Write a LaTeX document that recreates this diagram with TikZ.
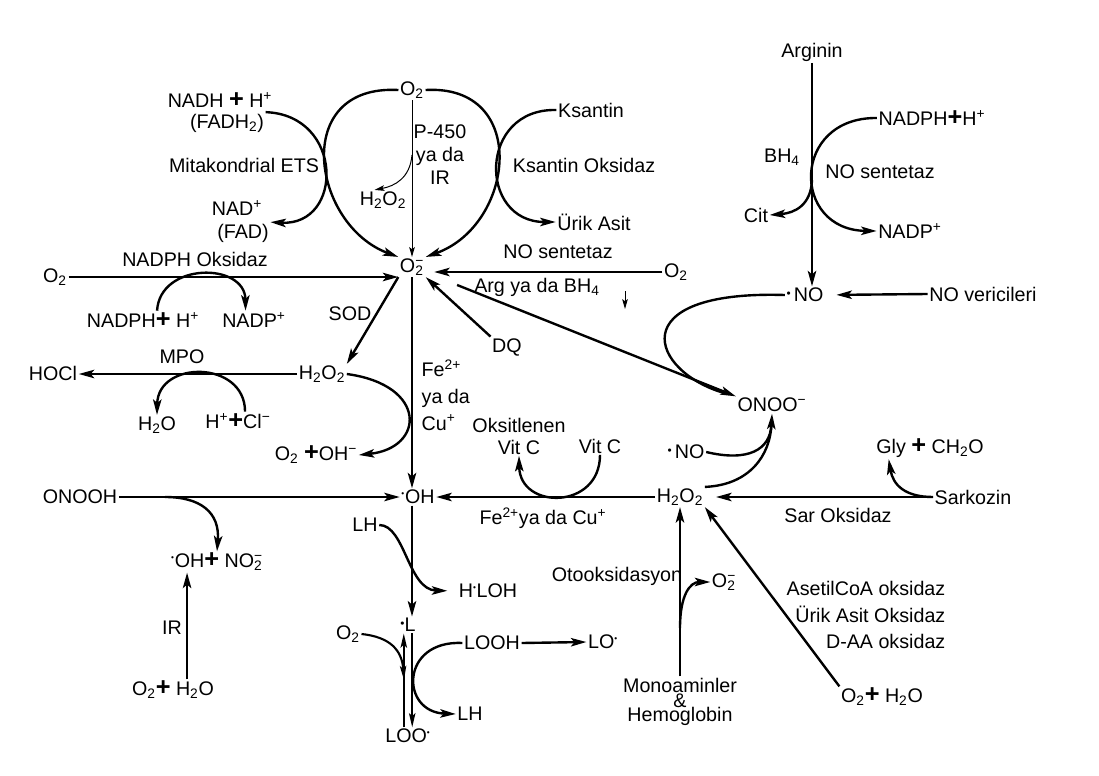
\documentclass[tikz,border=0pt]{standalone}
\usepackage{fontspec}
\setmainfont{Liberation Sans}
\usetikzlibrary{arrows.meta}
\newcommand{\chsb}[2]{\rlap{\textsubscript{#1}}\textsuperscript{#2}}
\newcommand{\rdot}{\textsuperscript{\scalebox{0.6}{•}}}
\newcommand{\mdot}{\raisebox{0.2em}{\scalebox{0.6}{•}}}
\newcommand{\bplus}{{\fontsize{18}{18}\selectfont\bfseries+}}
\begin{document}
\begin{tikzpicture}
		[x=0.025cm,y=-0.025cm,
		every node/.style={font=\fontsize{14}{16.5}\selectfont,inner sep=1pt},
		rx/.style={line width=1.7pt,-{Stealth[length=11pt,width=6pt,inset=2.5pt]}},
		ln/.style={line width=1.7pt},
		tn/.style={line width=0.7pt,-{Stealth[length=7pt,width=4pt,inset=1.5pt]}},
		nr/.style={line width=1.5pt,-{Stealth[length=10pt,width=4.5pt,inset=2pt]}},
		]
		\useasboundingbox[fill=white] (0,0) rectangle (1099,776);

		\node (o2top) at (412,90) {O\textsubscript{2}};
		\node (nadh) at (220,100) {NADH \bplus{} H\textsuperscript{+}};
		\node (fadh) at (227,123) {(FADH\textsubscript{2})};
		\node (ets) at (244,165) {Mitakondrial ETS};
		\node (nad) at (237,208) {NAD\textsuperscript{+}};
		\node (fad) at (243,233) {(FAD)};
		\node[align=center,font=\fontsize{14}{16.3}\selectfont] (p450) at (440,155) {P-450\\ya da\\IR};
		\node (h2o2a) at (383,200) {H\textsubscript{2}O\textsubscript{2}};
		\node (ksantin) at (591,110) {Ksantin};
		\node (ko) at (584,165) {Ksantin Oksidaz};
		\node (urik) at (594,222) {Ürik Asit};
		\node (sup) at (412,267) {O\chsb{2}{−}};
		\node (o2l) at (55,277) {O\textsubscript{2}};
		\node (nadphox) at (195,259) {NADPH Oksidaz};
		\node (nadph1) at (143,320) {NADPH\bplus{} H\textsuperscript{+}};
		\node (nadp1) at (254,320) {NADP\textsuperscript{+}};
		\node (nos1) at (558,252) {NO sentetaz};
		\node (o2r) at (676,272) {O\textsubscript{2}};
		\node (argbh) at (537,287) {Arg ya da BH\textsubscript{4}};
		\coordinate (dw1) at (625,291);
		\coordinate (dw2) at (625,309);
		\node (sod) at (350,314) {SOD};
		\node (h2o2b) at (322,374) {H\textsubscript{2}O\textsubscript{2}};
		\node (hocl) at (53,373) {HOCl};
		\node (mpo) at (182,357) {MPO};
		\node (h2o) at (157,425) {H\textsubscript{2}O};
		\node (hcl) at (238,421) {H\textsuperscript{+}\bplus{}Cl\textsuperscript{−}};
		\node (o2oh) at (316,455) {O\textsubscript{2} \bplus{}OH\textsuperscript{−}};
		\node[anchor=west,align=left,font=\fontsize{14}{19}\selectfont] (fecu) at (420,395) {Fe\textsuperscript{2+}\\ya da\\Cu\textsuperscript{+}};
		\node (dq) at (507,347) {DQ};
		\node (onoo) at (772,405) {ONOO\textsuperscript{−}};
		\node (arginin) at (812,52) {Arginin};
		\node (nadph2) at (932,118) {NADPH\bplus{}H\textsuperscript{+}};
		\node (bh4) at (782,157) {BH\textsubscript{4}};
		\node (nos2) at (880,172) {NO sentetaz};
		\node (cit) at (756,215) {Cit};
		\node (nadp2) at (910,231) {NADP\textsuperscript{+}};
		\node (no1) at (805,295) {\mdot\,NO};
		\node (nover) at (983,294) {NO vericileri};
		\node[align=center,font=\fontsize{14}{15.6}\selectfont] (oksvitc) at (519,436) {Oksitlenen\\Vit C};
		\node (vitc) at (600,446) {Vit C};
		\node (no2) at (686,452) {\mdot\,NO};
		\node (oh) at (418,497) {\rdot OH};
		\node (onooh) at (80,497) {ONOOH};
		\node (h2o2c) at (680,497) {H\textsubscript{2}O\textsubscript{2}};
		\node (fecu2) at (543,518) {Fe\textsuperscript{2+}ya da Cu\textsuperscript{+}};
		\node (gly) at (930,448) {Gly \bplus{} CH\textsubscript{2}O};
		\node (sark) at (973,497) {Sarkozin};
		\node (saro) at (838,515) {Sar Oksidaz};
		\coordinate (ob) at (165,497);
		\node (ohno2) at (217,562) {\rdot OH\bplus{} NO\chsb{2}{−}};
		\node (ir) at (172,628) {IR};
		\node (o2h2o1) at (173,690) {O\textsubscript{2}\bplus{} H\textsubscript{2}O};
		\node (lh1) at (365,525) {LH};
		\node (hloh) at (488,591) {H\rdot LOH};
		\node (ldot) at (408,625) {\mdot L};
		\node (o2b) at (348,634) {O\textsubscript{2}};
		\coordinate (la) at (404,680);
		\node (looh) at (492,643) {LOOH};
		\node (lo) at (603,642) {LO\rdot};
		\node (lh2) at (470,714) {LH};
		\node (loo) at (408,736) {LOO\rdot};
		\node[align=center,font=\fontsize{14}{10.5}\selectfont] (mono) at (680,702) {Monoaminler\\\&\\Hemoglobin};
		\node (otook) at (617,576) {Otooksidasyon};
		\coordinate (mb) at (680,628);
		\node (o2s2) at (724,582) {O\chsb{2}{−}};
		\node[anchor=east,align=right,font=\fontsize{14}{19}\selectfont] (enz) at (947,615) {AsetilCoA oksidaz\\Ürik Asit Oksidaz\\D-AA oksidaz};
		\node (o2h2o2) at (882,697) {O\textsubscript{2}\bplus{} H\textsubscript{2}O};
		\coordinate (pb) at (412,155);
		\coordinate (cb) at (812,180);

		% halka ve yan tepkimeler
		\draw[rx] (o2top.west) .. controls (290,84) and (312,225) .. (sup.north west);
		\draw[rx] (o2top.east) .. controls (530,84) and (515,225) .. (sup.north east);
		\draw[rx] (fadh.north east) .. controls (344,115) and (344,226) .. (fad.north east);
		\draw[rx] (ksantin.west) .. controls (478,108) and (478,222) .. (urik.west);
		\draw[tn] (o2top.south) -- (o2top.south |- sup.north);
		\draw[tn] (pb) .. controls (410,178) and (395,186) .. ([xshift=-6pt]h2o2a.north);
		\draw[rx] (o2l.east) -- (o2l.east -| sup.west);
		\draw[rx] ([xshift=10pt]nadph1.north) .. controls (160,262) and (245,262) .. ([xshift=-6pt]nadp1.north);
		\draw[rx,shorten >=6pt] (o2r.west) -- (o2r.west -| sup.east);
		\draw[tn] (dw1) -- (dw2);
		\draw[rx] (sup.south west) -- (h2o2b.north east);
		\draw[rx] (sup.south) -- (sup.south |- oh.north);
		\draw[rx] (dq.north west) -- (sup.south east);
		\draw[rx,shorten <=24pt] (sup) -- (onoo.north west);
		\draw[ln,shorten >=8pt] (no1.west) .. controls (620,290) and (650,372) .. (onoo.north west);
		\draw[rx] (arginin.south) -- (arginin.south |- no1.north);
		\draw[rx] (nadph2.west) .. controls (791,117) and (791,230) .. (nadp2.west);
		\draw[rx] (cb) .. controls (811,205) and (795,213) .. (cit.east);
		\draw[rx,shorten >=8pt] (nover.west) -- (no1.east);
		\draw[rx] (h2o2b.west) -- (h2o2b.west -| hocl.east);
		\draw[rx] ([xshift=5pt]hcl.north) .. controls (245,360) and (158,360) .. (h2o.north);
		\draw[rx] (h2o2b.east) .. controls (428,385) and (425,448) .. (o2oh.east);
		\draw[rx] (onooh.east) -- (onooh.east -| oh.west);
		\draw[rx] (ob) .. controls (200,497) and (220,512) .. (ohno2.north);
		\draw[rx] ([xshift=10pt]o2h2o1.north) -- ([xshift=10pt]o2h2o1.north |- ohno2.south);
		\draw[rx] (h2o2c.west) -- (h2o2c.west -| oh.east);
		\draw[rx] (vitc.south) .. controls (600,510) and (520,510) .. (oksvitc.south);
		\draw[rx] (h2o2c.north east) .. controls (750,485) and (770,455) .. (onoo.south);
		\draw[ln,shorten >=8pt] (no2.east) .. controls (748,462) and (770,450) .. (onoo.south);
		\draw[rx,shorten >=8pt] (sark.west) -- (sark.west -| h2o2c.east);
		\draw[rx] (sark.west) .. controls (905,497) and (893,485) .. ([xshift=10pt]gly.south west);
		\draw[rx] (mono.north) -- (mono.north |- h2o2c.south);
		\draw[rx] (mb) .. controls (680,595) and (690,582) .. (o2s2.west);
		\draw[rx] (o2h2o2.north west) -- (h2o2c.south east);
		\draw[rx,shorten >=7pt] (lh1.east) .. controls (405,525) and (408,590) .. (hloh.west);
		\draw[rx] (sup.south |- oh.south) -- (sup.south |- ldot.north);
		\draw[nr] (o2b.east) .. controls (390,637) and (402,650) .. (la);
		\draw[nr] ([xshift=-3pt]loo.north) -- ([xshift=-3pt]ldot.south);
		\draw[nr] ([xshift=3pt]ldot.south) -- ([xshift=3pt]loo.north);
		\draw[rx] (looh.west) .. controls (400,640) and (400,712) .. (lh2.west);
		\draw[rx] (looh.east) -- (lo.west);
\end{tikzpicture}
\end{document}
